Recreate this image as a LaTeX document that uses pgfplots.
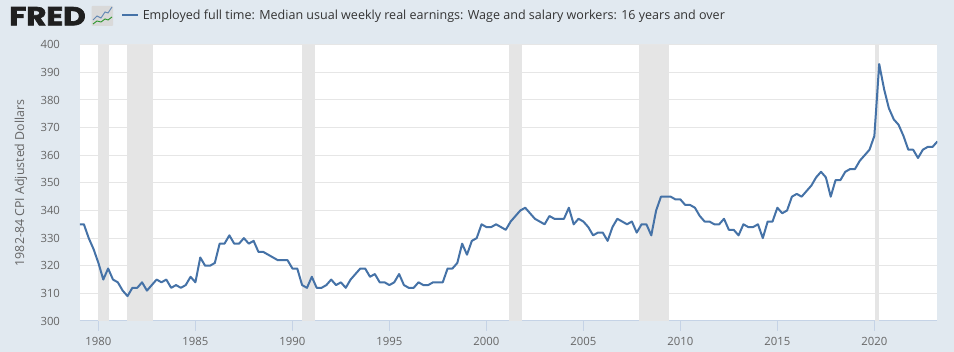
\documentclass[border=0pt]{standalone}
\usepackage{pgfplots}
\usepackage{fontspec}
\pgfplotsset{compat=1.18}
\setmainfont{Open Sans}
\newfontfamily\fredfont[BoldFeatures={FakeBold=2.5}]{Poppins}
\definecolor{bgc}{HTML}{E1E9F0}
\definecolor{gridc}{HTML}{E6E6E6}
\definecolor{axisc}{HTML}{C5D3E6}
\definecolor{linec}{HTML}{4572A7}
\definecolor{labelc}{HTML}{666666}
\definecolor{titlec}{HTML}{333333}
\definecolor{recc}{HTML}{E5E5E5}
\newcommand{\px}{0.75pt}
\begin{document}
\begin{tikzpicture}[x=\px,y=\px]
\fill[bgc] (0,0) rectangle (954,352);
% logo
\node[anchor=base west,inner sep=0pt,xscale=1.19,font=\fredfont\bfseries\fontsize{19.5pt}{19.5pt}\selectfont,text=black!88] at (9,352-25.3) {FRED};
\fill[rounded corners=0.6pt,black!15] (91.5,352-26) rectangle (113,352-6);
\draw[line width=0.7pt,color=linec!85] (93,352-20) -- (97,352-16) -- (101,352-18) -- (105,352-12) -- (108,352-13) -- (112,352-7);
\draw[line width=0.7pt,color=green!50!black!80] (93,352-24) -- (97,352-21) -- (101,352-22) -- (105,352-19) -- (108,352-20) -- (112,352-17);
% legend
\draw[linec,line width=1.5pt] (122,352-15.5) -- (138,352-15.5);
\node[anchor=base west,inner sep=0pt,text=titlec,font=\fontsize{9.4pt}{10pt}\selectfont] at (142.5,352-20) {Employed full time: Median usual weekly real earnings: Wage and salary workers: 16 years and over};
\begin{axis}[
  at={(60pt,23.25pt)},anchor=south west,
  scale only axis,width=643.05pt,height=207.2pt,
  xmin=1979.05,xmax=2023.25,ymin=300,ymax=400,
  axis background/.style={fill=white},
  axis y line*=left,axis x line*=bottom,
  y axis line style={draw=none},
  x axis line style={draw=axisc,line width=0.75pt,-},
  xtick={1980,1985,...,2020},
  ytick={300,310,...,400},
  /pgf/number format/assume math mode=true,
  /pgf/number format/1000 sep={},
  ticklabel style={text=labelc,font=\fontsize{8.5pt}{10pt}\selectfont},
  x tick style={draw=axisc,line width=0.75pt},
  y tick style={draw=none},
  tick align=outside,
  major tick length=7.5pt,
  xticklabel style={yshift=-1pt},
  yticklabel style={xshift=-4pt},
  ymajorgrids,
  major grid style={draw=gridc,line width=0.75pt},
  ylabel={1982-84 CPI Adjusted Dollars},
  every axis y label/.style={at={(axis description cs:-0.0688,0.5)},anchor=center,rotate=90,text=labelc,font=\fontsize{9.3pt}{10pt}\selectfont},
  clip=true,
]
% recessions
\addplot[fill=recc,draw=none] coordinates {(1980.0,300)(1980.53,300)(1980.53,400)(1980.0,400)};
\addplot[fill=recc,draw=none] coordinates {(1981.47,300)(1982.82,300)(1982.82,400)(1981.47,400)};
\addplot[fill=recc,draw=none] coordinates {(1990.5,300)(1991.18,300)(1991.18,400)(1990.5,400)};
\addplot[fill=recc,draw=none] coordinates {(2001.14,300)(2001.85,300)(2001.85,400)(2001.14,400)};
\addplot[fill=recc,draw=none] coordinates {(2007.89,300)(2009.4,300)(2009.4,400)(2007.89,400)};
\addplot[fill=recc,draw=none] coordinates {(2020.05,300)(2020.23,300)(2020.23,400)(2020.05,400)};
\addplot[linec,line width=1.5pt,line join=round] table {
1979.00 335
1979.25 335
1979.50 330
1979.75 326
1980.00 321
1980.25 315
1980.50 319
1980.75 315
1981.00 314
1981.25 311
1981.50 309
1981.75 312
1982.00 312
1982.25 314
1982.50 311
1982.75 313
1983.00 315
1983.25 314
1983.50 315
1983.75 312
1984.00 313
1984.25 312
1984.50 313
1984.75 316
1985.00 314
1985.25 323
1985.50 320
1985.75 320
1986.00 321
1986.25 328
1986.50 328
1986.75 331
1987.00 328
1987.25 328
1987.50 330
1987.75 328
1988.00 329
1988.25 325
1988.50 325
1988.75 324
1989.00 323
1989.25 322
1989.50 322
1989.75 322
1990.00 319
1990.25 319
1990.50 313
1990.75 312
1991.00 316
1991.25 312
1991.50 312
1991.75 313
1992.00 315
1992.25 313
1992.50 314
1992.75 312
1993.00 315
1993.25 317
1993.50 319
1993.75 319
1994.00 316
1994.25 317
1994.50 314
1994.75 314
1995.00 313
1995.25 314
1995.50 317
1995.75 313
1996.00 312
1996.25 312
1996.50 314
1996.75 313
1997.00 313
1997.25 314
1997.50 314
1997.75 314
1998.00 319
1998.25 319
1998.50 321
1998.75 328
1999.00 324
1999.25 329
1999.50 330
1999.75 335
2000.00 334
2000.25 334
2000.50 335
2000.75 334
2001.00 333
2001.25 336
2001.50 338
2001.75 340
2002.00 341
2002.25 339
2002.50 337
2002.75 336
2003.00 335
2003.25 338
2003.50 337
2003.75 337
2004.00 337
2004.25 341
2004.50 335
2004.75 337
2005.00 336
2005.25 334
2005.50 331
2005.75 332
2006.00 332
2006.25 329
2006.50 334
2006.75 337
2007.00 336
2007.25 335
2007.50 336
2007.75 332
2008.00 335
2008.25 335
2008.50 331
2008.75 340
2009.00 345
2009.25 345
2009.50 345
2009.75 344
2010.00 344
2010.25 342
2010.50 342
2010.75 341
2011.00 338
2011.25 336
2011.50 336
2011.75 335
2012.00 335
2012.25 337
2012.50 333
2012.75 333
2013.00 331
2013.25 335
2013.50 334
2013.75 334
2014.00 335
2014.25 330
2014.50 336
2014.75 336
2015.00 341
2015.25 339
2015.50 340
2015.75 345
2016.00 346
2016.25 345
2016.50 347
2016.75 349
2017.00 352
2017.25 354
2017.50 352
2017.75 345
2018.00 351
2018.25 351
2018.50 354
2018.75 355
2019.00 355
2019.25 358
2019.50 360
2019.75 362
2020.00 367
2020.25 393
2020.50 384
2020.75 377
2021.00 373
2021.25 371
2021.50 367
2021.75 362
2022.00 362
2022.25 359
2022.50 362
2022.75 363
2023.00 363
2023.25 365
};
\end{axis}
\end{tikzpicture}
\end{document}
